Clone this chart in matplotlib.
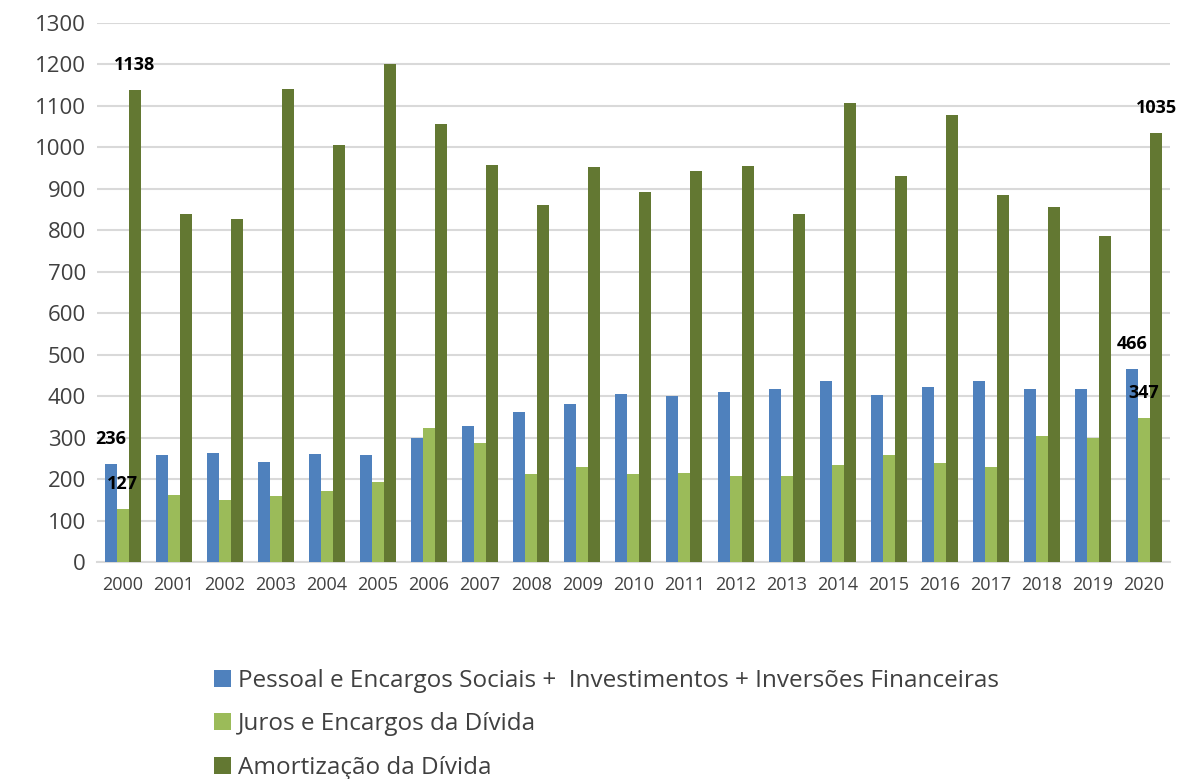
import numpy as np
import matplotlib
matplotlib.use("Agg")
import matplotlib.pyplot as plt

plt.rcParams['font.family'] = ['Open Sans', 'DejaVu Sans']

# dados
anos = [str(a) for a in range(2000, 2021)]
pessoal = [236, 257, 264, 241, 260, 259, 300, 327, 361, 380, 406, 401, 409, 418, 436, 403, 422, 437, 417, 417, 466]
juros = [127, 161, 149, 158, 172, 194, 322, 287, 212, 229, 213, 214, 207, 207, 234, 258, 239, 230, 305, 299, 347]
amortizacao = [1138, 840, 827, 1141, 1006, 1200, 1056, 958, 861, 953, 892, 942, 955, 840, 1106, 932, 1077, 885, 857, 786, 1035]

nomes = ["Pessoal e Encargos Sociais +  Investimentos + Inversões Financeiras",
         "Juros e Encargos da Dívida",
         "Amortização da Dívida"]
cores = ["#4f81bd", "#9bbb59", "#637832"]

fig = plt.figure(figsize=(11.85, 7.79), dpi=100)
ax = fig.add_axes([0.082, 0.2786, 0.905, 0.6919])

x = np.arange(len(anos))
w = 0.235
series = [pessoal, juros, amortizacao]
barras = []
for k, (vals, cor, nome) in enumerate(zip(series, cores, nomes)):
    b = ax.bar(x + (k - 1) * w, vals, w, color=cor, label=nome, zorder=3)
    barras.append(b)

# rotulos so no primeiro e no ultimo ano
for k, vals in enumerate(series):
    for i in (0, len(anos) - 1):
        ax.annotate(str(vals[i]), (x[i] + (k - 1) * w, vals[i]),
                    xytext=(0, 18), textcoords="offset points",
                    ha="center", va="center", fontsize=13, fontweight="bold",
                    color="black", zorder=5)

ax.set_xlim(-0.5, len(anos) - 0.5)
ax.set_ylim(0, 1300)
ax.set_yticks(range(0, 1301, 100))
ax.set_xticks(x)
ax.set_xticklabels(anos)
ax.grid(axis="y", color="#d9d9d9", linewidth=1.5, zorder=0)
for s in ["top", "right", "left"]:
    ax.spines[s].set_visible(False)
ax.spines["bottom"].set_color("#d9d9d9")
ax.spines["bottom"].set_linewidth(1.5)
ax.tick_params(axis="y", length=0, labelsize=16, labelcolor="#404040", pad=8)
ax.tick_params(axis="x", length=0, labelsize=13, labelcolor="#404040", pad=10)

fig.legend(handles=barras, loc="upper left", bbox_to_anchor=(0.172, 0.154),
           frameon=False, fontsize=17.5, handlelength=0.7, handleheight=0.7,
           handletextpad=0.3, labelspacing=0.8, borderaxespad=0,
           labelcolor="#404040")

fig.savefig("out.png", dpi=100)
